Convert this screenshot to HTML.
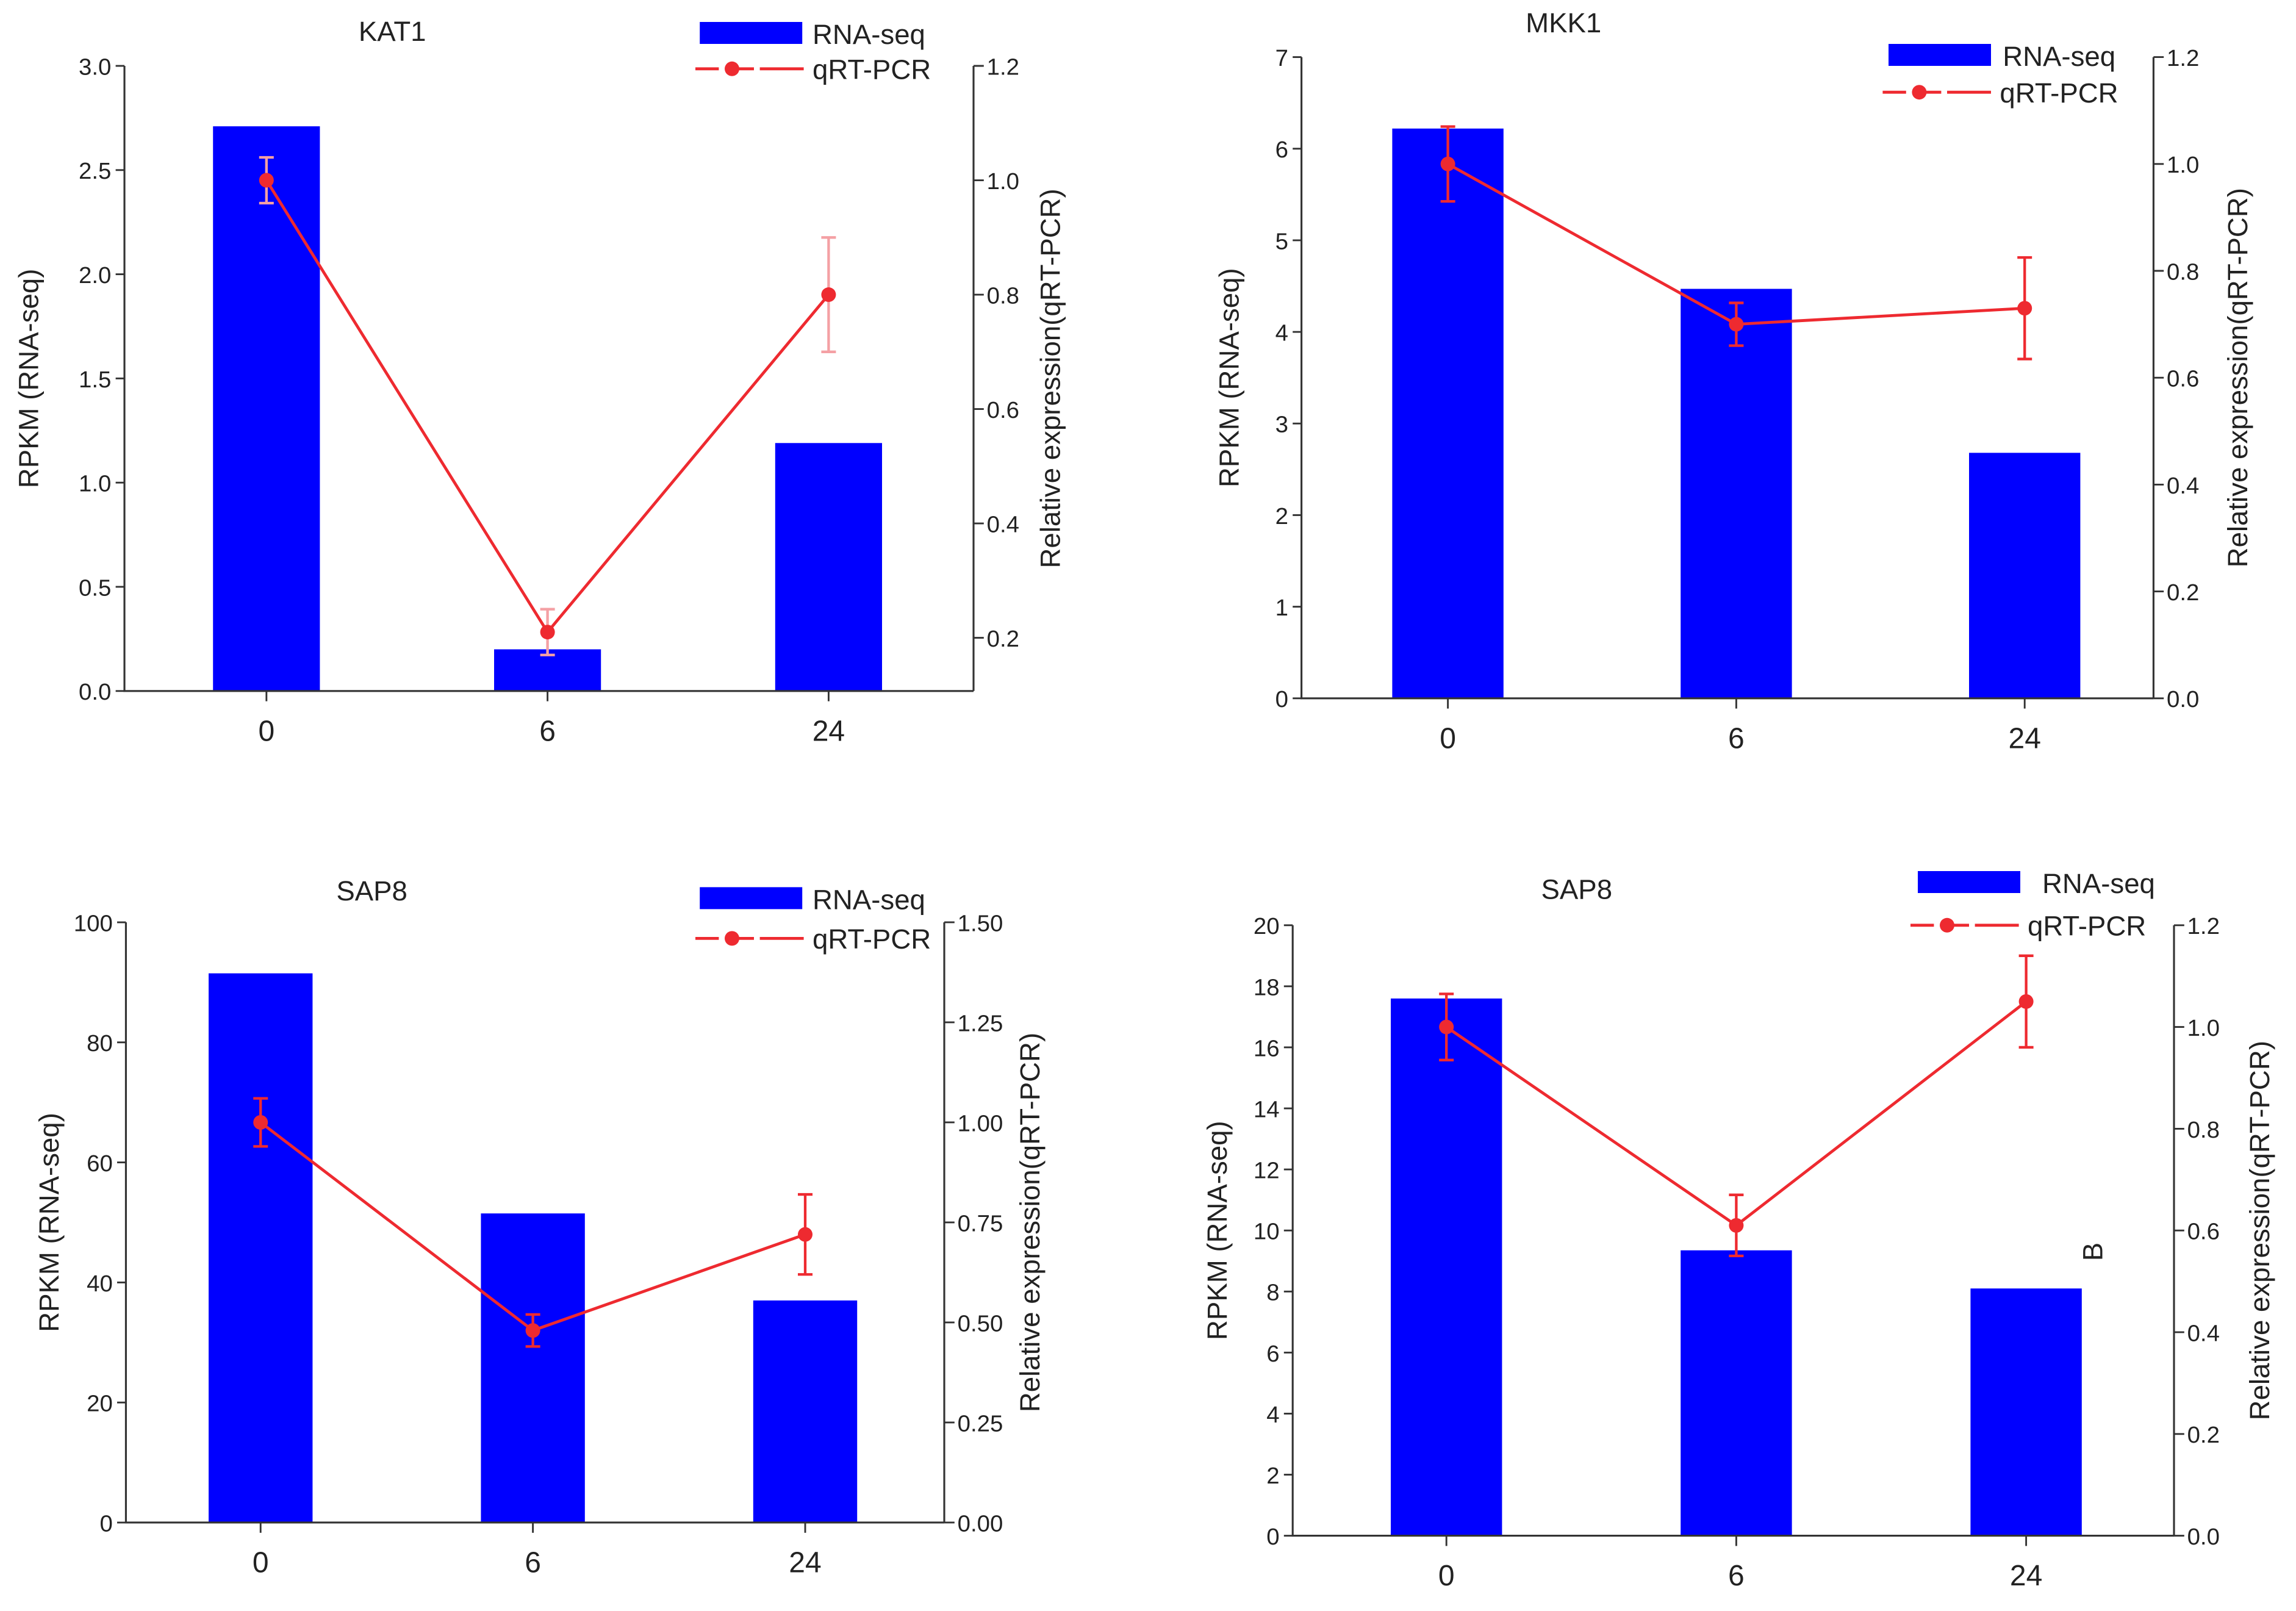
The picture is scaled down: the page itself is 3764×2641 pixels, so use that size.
<!DOCTYPE html>
<html><head><meta charset="utf-8"><style>
html,body{margin:0;padding:0;background:#fff}
svg{display:block}
text{font-family:"Liberation Sans",Arial,sans-serif;fill:#222}
</style></head><body>
<svg id="chart" width="3764" height="2641" viewBox="0 0 1568.33 1100.42" xmlns="http://www.w3.org/2000/svg"></svg>
<script>
const categories = ["0","6","24"];
// Panel A - KAT1
const katRna = [2.71, 0.2, 1.19];
const katQ = [1.0, 0.21, 0.80];
const katErr = [0.04, 0.04, 0.10];
const katLeftTicks = ["0.0","0.5","1.0","1.5","2.0","2.5","3.0"];
const katRightTicks = ["0.2","0.4","0.6","0.8","1.0","1.2"];
// Panel B - MKK1
const mkkRna = [6.22, 4.47, 2.68];
const mkkQ = [1.0, 0.70, 0.73];
const mkkErr = [0.07, 0.04, 0.095];
const mkkLeftTicks = ["0","1","2","3","4","5","6","7"];
const mkkRightTicks = ["0.0","0.2","0.4","0.6","0.8","1.0","1.2"];
// Panel C - SAP8
const sapRna = [91.5, 51.5, 37];
const sapQ = [1.0, 0.48, 0.72];
const sapErr = [0.06, 0.04, 0.10];
const sapLeftTicks = ["0","20","40","60","80","100"];
const sapRightTicks = ["0.00","0.25","0.50","0.75","1.00","1.25","1.50"];
// Panel D - SAP8
const sap2Rna = [17.6, 9.35, 8.1];
const sap2Q = [1.0, 0.61, 1.05];
const sap2Err = [0.065, 0.06, 0.09];
const sap2LeftTicks = ["0","2","4","6","8","10","12","14","16","18","20"];
const sap2RightTicks = ["0.0","0.2","0.4","0.6","0.8","1.0","1.2"];

const svg = document.getElementById('chart');
const NS = "http://www.w3.org/2000/svg";
function mk(tag, attrs, parent){const e=document.createElementNS(NS,tag);for(const k in attrs)e.setAttribute(k,attrs[k]);(parent||svg).appendChild(e);return e;}
function txt(s, attrs, parent){const e=mk('text',attrs,parent);e.textContent=s;return e;}

function panel(p){
  const g = mk('g',{});
  
  
  const yL = v => p.y0 - (v - p.lMin)/(p.lMax - p.lMin)*(p.y0 - p.y1);
  const yR = v => p.y0 - (v - p.rMin)/(p.rMax - p.rMin)*(p.y0 - p.y1);
  const xC = i => p.cx[0] + i*(p.cx[1]-p.cx[0]);
  p.rna.forEach((v,i)=>{
    const r = mk('rect',{x:xC(i)-p.bw/2,y:yL(v),width:p.bw,height:p.y0-yL(v),fill:'#0000ff'},g);
    
    
  });
  const ax = mk('path',{d:`M${p.xl},${p.y1}V${p.y0}H${p.xr}M${p.xr},${p.y1}V${p.y0}`,stroke:'#333','stroke-width':1.3,fill:'none'},g);
  
  
  p.lTicks.forEach(t=>{
    const v=parseFloat(t), y=yL(v);
    mk('line',{x1:p.xl-6,x2:p.xl,y1:y,y2:y,stroke:'#333','stroke-width':1.2},g);
    const l=txt(t,{x:p.xl-9,y:y+6,'text-anchor':'end','font-size':16},g);
    
    
  });
  p.rTicks.forEach(t=>{
    const v=parseFloat(t), y=yR(v);
    mk('line',{x1:p.xr,x2:p.xr+7,y1:y,y2:y,stroke:'#333','stroke-width':1.2},g);
    const l=txt(t,{x:p.xr+9,y:y+6,'font-size':16},g);
    
    
  });
  categories.forEach((c,i)=>{
    mk('line',{x1:xC(i),x2:xC(i),y1:p.y0,y2:p.y0+7,stroke:'#333','stroke-width':1.2},g);
    const l=txt(c,{x:xC(i),y:p.y0+34,'text-anchor':'middle','font-size':20},g);
    
    
  });
  const pts = p.q.map((v,i)=>xC(i)+','+yR(v)).join(' ');
  const ln = mk('polyline',{points:pts,fill:'none',stroke:'#ee2a30','stroke-width':2},g);
  
  
  p.q.forEach((v,i)=>{
    const x=xC(i), a=yR(v+p.err[i]), b=yR(v-p.err[i]);
    const eb = mk('path',{d:`M${x},${a}V${b}M${x-5},${a}H${x+5}M${x-5},${b}H${x+5}`,stroke:p.errColor,'stroke-width':1.8,fill:'none'},g);
    
    
    const c = mk('circle',{cx:x,cy:yR(v),r:5,fill:'#ee2a30'},g);
    
    
  });
  const tt = txt(p.title,{x:p.tx,y:p.ty,'text-anchor':'middle','font-size':19},g);
  
  
  const yt = txt('RPKM (RNA-seq)',{x:0,y:0,'text-anchor':'middle','font-size':19,transform:`translate(${p.ylx},${(p.y0+p.y1)/2}) rotate(-90)`},g);
  
  
  const yr = txt('Relative expression(qRT-PCR)',{x:0,y:0,'text-anchor':'middle','font-size':19,transform:`translate(${p.yrx},${(p.y0+p.y1)/2}) rotate(-90)`},g);
  
  
  const lg = mk('g',{},g);
  
  
  mk('rect',{x:p.lx,y:p.ly-8,width:70,height:15,fill:'#0000ff'},lg);
  txt('RNA-seq',{x:p.lx+p.lt1,y:p.ly+7,'font-size':19},lg);
  mk('line',{x1:p.lx2,x2:p.lx2+75,y1:p.ly2,y2:p.ly2,stroke:'#ee2a30','stroke-width':2,'stroke-dasharray':'16 4 0 4 16 4 30'},lg);
  mk('circle',{cx:p.lx2+25,cy:p.ly2,r:5,fill:'#ee2a30'},lg);
  txt('qRT-PCR',{x:p.lx2+80,y:p.ly2+7,'font-size':19},lg);
}

panel({name:'panel-kat1',title:'KAT1',tx:268,ty:28,rna:katRna,q:katQ,err:katErr,lTicks:katLeftTicks,rTicks:katRightTicks,
  lMin:0,lMax:3,rMin:0.107,rMax:1.2,y0:472,y1:45,xl:85,xr:665,cx:[182,374],bw:73,errColor:'#f4a0a4',
  ylx:26,yrx:724,lx:478,ly:23,lt1:77,lx2:475,ly2:47});
panel({name:'panel-mkk1',title:'MKK1',tx:1068,ty:22,rna:mkkRna,q:mkkQ,err:mkkErr,lTicks:mkkLeftTicks,rTicks:mkkRightTicks,
  lMin:0,lMax:7,rMin:0,rMax:1.2,y0:477,y1:39,xl:889,xr:1471,cx:[989,1186],bw:76,errColor:'#ee2a30',
  ylx:846,yrx:1535,lx:1290,ly:38,lt1:78,lx2:1286,ly2:63});
panel({name:'panel-sap8-left',title:'SAP8',tx:254,ty:615,rna:sapRna,q:sapQ,err:sapErr,lTicks:sapLeftTicks,rTicks:sapRightTicks,
  lMin:0,lMax:100,rMin:0,rMax:1.5,y0:1040,y1:630,xl:86,xr:645,cx:[178,364],bw:71,errColor:'#ee2a30',
  ylx:40,yrx:710,lx:478,ly:614,lt1:77,lx2:475,ly2:641});
panel({name:'panel-sap8-right',title:'SAP8',tx:1077,ty:614,rna:sap2Rna,q:sap2Q,err:sap2Err,lTicks:sap2LeftTicks,rTicks:sap2RightTicks,
  lMin:0,lMax:20,rMin:0,rMax:1.2,y0:1049,y1:632,xl:883,xr:1485,cx:[988,1186],bw:76,errColor:'#ee2a30',
  ylx:838,yrx:1550,lx:1310,ly:603,lt1:85,lx2:1305,ly2:632});
const bl = txt('B',{x:0,y:0,'text-anchor':'middle','font-size':19,transform:'translate(1436,855) rotate(-90)'});


</script>
</body></html>
